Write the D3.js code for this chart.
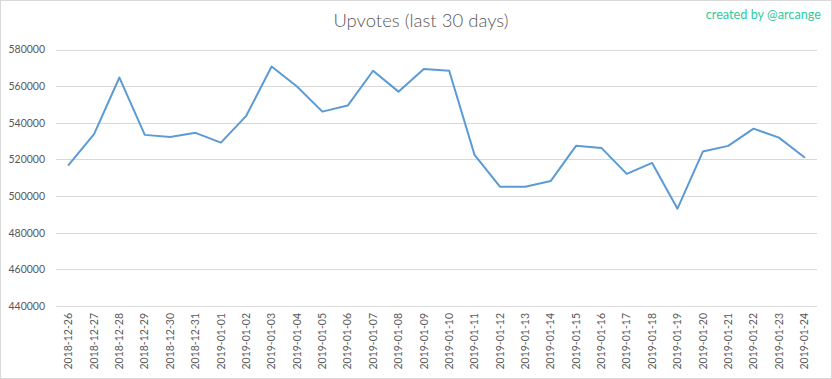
<!DOCTYPE html>
<html><head><meta charset="utf-8">
<script src="https://cdn.jsdelivr.net/npm/d3@7/dist/d3.min.js"></script>
<style>html,body{margin:0;padding:0;background:#fff;}svg{display:block;}</style>
</head><body><svg id="c" width="832" height="379"></svg>
<script>
const dates = ["2018-12-26","2018-12-27","2018-12-28","2018-12-29","2018-12-30","2018-12-31","2019-01-01","2019-01-02","2019-01-03","2019-01-04","2019-01-05","2019-01-06","2019-01-07","2019-01-08","2019-01-09","2019-01-10","2019-01-11","2019-01-12","2019-01-13","2019-01-14","2019-01-15","2019-01-16","2019-01-17","2019-01-18","2019-01-19","2019-01-20","2019-01-21","2019-01-22","2019-01-23","2019-01-24"];
const upvotes = [517000,533800,564700,533400,532300,534500,529200,543800,570700,559800,546100,549400,568400,557000,569400,568400,522500,505100,505100,508200,527400,526300,512100,518100,493100,524300,527400,536800,531900,521200];
const yTicks = [440000,460000,480000,500000,520000,540000,560000,580000];
const title = "Upvotes (last 30 days)";
const credit = "created by @arcange";

const svg = d3.select("#c");
const W = 832, H = 379;
const m = {left:56, right:15, top:49.5, bottom:73};
svg.append("rect").attr("x",0.5).attr("y",0.5).attr("width",W-1).attr("height",H-1)
  .attr("fill","#fff").attr("stroke","#d9d9d9");

const x = d3.scaleBand().domain(dates).range([m.left, W-m.right]);
const y = d3.scaleLinear().domain([440000,580000]).range([H-m.bottom, m.top]);

const fontF = "Lato, 'Open Sans', sans-serif";
// grid
svg.append("g").selectAll("line").data(yTicks).join("line")
  .attr("x1", m.left).attr("x2", W-m.right)
  .attr("y1", d=>Math.round(y(d))+0.5).attr("y2", d=>Math.round(y(d))+0.5)
  .attr("stroke","#d9d9d9").attr("stroke-width",1);

// y axis labels
const ya = svg.append("g").attr("transform",`translate(${m.left-11},0)`)
  .call(d3.axisLeft(y).tickValues(yTicks).tickSize(0).tickPadding(0).tickFormat(d3.format("d")));
ya.select(".domain").remove();
ya.selectAll("text").attr("fill","#595959").attr("font-size","10.5px").attr("font-family",fontF);

// x axis labels
const xa = svg.append("g").attr("transform",`translate(0,${H-m.bottom})`)
  .call(d3.axisBottom(x).tickSize(0).tickPadding(0));
xa.select(".domain").remove();
xa.selectAll("text").attr("fill","#595959").attr("font-size","10.5px").attr("font-family",fontF)
  .attr("text-anchor","end").attr("dy","0.35em")
  .attr("transform","translate(0,7) rotate(-90)");

// line
const line = d3.line().x((d,i)=>x(dates[i])+x.bandwidth()/2).y(d=>y(d));
svg.append("path").datum(upvotes).attr("d",line).attr("fill","none")
  .attr("stroke","#5b9bd5").attr("stroke-width",2).attr("stroke-linejoin","round").attr("stroke-linecap","round");

// title
svg.append("text").attr("x",421).attr("y",27).attr("text-anchor","middle")
  .attr("font-family",fontF).attr("font-weight",300).attr("font-size","18.5px").attr("fill","#595959").text(title);
svg.append("text").attr("x",821).attr("y",18.5).attr("text-anchor","end")
  .attr("font-family",fontF).attr("font-size","12.7px").attr("fill","#2fca9f").text(credit);
</script></body></html>
